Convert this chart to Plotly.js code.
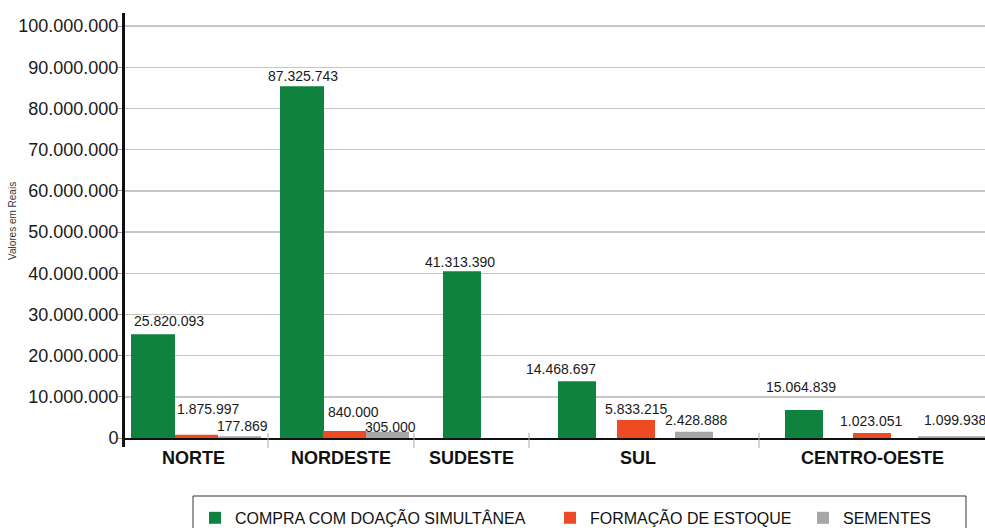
<!DOCTYPE html>
<html>
<head>
<meta charset="utf-8">
<script src="https://cdn.plot.ly/plotly-3.0.1.min.js"></script>
<style>html,body{margin:0;padding:0;background:#fff;}#chart{width:985px;height:528px;}</style>
</head>
<body>
<div id="chart"></div>
<script>
// ---- data ----
const regions = ['NORTE', 'NORDESTE', 'SUDESTE', 'SUL', 'CENTRO-OESTE'];
const seriesNames = ['COMPRA COM DOAÇÃO SIMULTÂNEA', 'FORMAÇÃO DE ESTOQUE', 'SEMENTES'];
// bar heights as drawn in the picture
const compraValues = [25200000, 85400000, 40500000, 13800000, 6800000];
const estoqueValues = [800000, 1700000, 0, 4400000, 1200000];
const sementesValues = [400000, 1500000, 0, 1500000, 400000];
// value labels as printed
const compraLabels = ['25.820.093', '87.325.743', '41.313.390', '14.468.697', '15.064.839'];
const estoqueLabels = ['1.875.997', '840.000', '', '5.833.215', '1.023.051'];
const sementesLabels = ['177.869', '305.000', '', '2.428.888', '1.099.938'];
const yTickVals = [0, 10000000, 20000000, 30000000, 40000000, 50000000, 60000000, 70000000, 80000000, 90000000, 100000000];
const yTitle = 'Valores em Reais';

// ---- layout / style ----
const colors = ['#10823f', '#ee4a24', '#a6a6a6'];
const FONT = 'Liberation Sans, Arial, Helvetica, sans-serif';
const barOffsets = [
  [-0.4651, -0.5988, -0.6512, -0.9826, -0.6628],
  [-0.2093, -0.3488, -0.4000, -0.6395, -0.2674],
  [0.0407, -0.0988, -0.2000, -0.3023, 0.1105]
];
const barWidths = [
  [0.2558, 0.2558, 0.2209, 0.2209, 0.2209],
  [0.25, 0.25, 0.2209, 0.2209, 0.2209],
  [0.25, 0.25, 0.2209, 0.2209, 0.39]
];
const labelDx = [[16, 1, -2, -16, -3], [11.5, 8.5, 0, 0, -1], [2.5, 2.5, 0, 2, 3.5]];
const labelDy = [[13, 10, 9, 12, 23], [26, 19, 0, 11, 12], [10, 5, 0, 12, 16]];
const catLabelShift = [-18, -42, -84, -89, -27];
const legendIds = ['legend', 'legend2', 'legend3'];
const legendX = [0.0814, 0.4942, 0.7884];

const allValues = [compraValues, estoqueValues, sementesValues];
const allLabels = [compraLabels, estoqueLabels, sementesLabels];

const traces = allValues.map((vals, s) => ({
  type: 'bar',
  name: seriesNames[s],
  legend: legendIds[s],
  x: regions,
  y: vals,
  offset: barOffsets[s],
  width: barWidths[s],
  marker: {color: colors[s], line: {width: 0}},
  hoverinfo: 'skip'
}));

const annotations = [];
allLabels.forEach((labels, s) => {
  labels.forEach((t, i) => {
    if (!t) return;
    annotations.push({
      x: i + barOffsets[s][i] + barWidths[s][i] / 2,
      y: allValues[s][i],
      xref: 'x', yref: 'y',
      text: t, showarrow: false,
      xanchor: 'center', yanchor: 'middle',
      xshift: labelDx[s][i], yshift: labelDy[s][i],
      font: {family: FONT, size: 14, color: '#1a1a1a'}
    });
  });
});
regions.forEach((r, i) => {
  annotations.push({
    x: i, y: -0.047, xref: 'x', yref: 'paper',
    text: '<b>' + r + '</b>', showarrow: false,
    xanchor: 'center', yanchor: 'middle', xshift: catLabelShift[i],
    font: {family: FONT, size: 18, color: '#111'}
  });
});
annotations.push({
  x: -0.1302, y: 0.5106, xref: 'paper', yref: 'paper',
  text: yTitle, textangle: -90, showarrow: false,
  xanchor: 'center', yanchor: 'middle',
  font: {family: FONT, size: 10, color: '#333'}
});

const sepX = [0.1663, 0.3360, 0.4698, 0.7372];
const shapes = sepX.map(x => ({
  type: 'line', xref: 'paper', yref: 'paper',
  x0: x, x1: x, y0: 0.0118, y1: -0.0235,
  line: {color: '#aaaaaa', width: 1}
}));
shapes.push({type: 'line', xref: 'paper', yref: 'paper', x0: -0.0017, x1: -0.0017, y0: 0, y1: -0.0212, line: {color: '#111', width: 3}});
shapes.push({type: 'rect', xref: 'paper', yref: 'paper', x0: 0.0791, x1: 0.9779, y0: -0.1365, y1: -0.26, line: {color: '#333', width: 1}});

const legendBase = {
  orientation: 'h', xanchor: 'left', y: -0.148, yanchor: 'top',
  font: {family: FONT, size: 16, color: '#111'},
  borderwidth: 0, bgcolor: 'rgba(0,0,0,0)', itemclick: false, itemdoubleclick: false
};

const layout = {
  width: 985, height: 528,
  margin: {l: 125, r: 0, t: 13, b: 90, autoexpand: false},
  paper_bgcolor: '#fff', plot_bgcolor: '#fff',
  separators: ',.',
  barmode: 'overlay',
  showlegend: true,
  font: {family: FONT, color: '#1a1a1a'},
  xaxis: {
    type: 'category', range: [-0.5, 4.5],
    showticklabels: false, ticks: '', showgrid: false,
    showline: true, linecolor: '#111', linewidth: 2, zeroline: false, fixedrange: true
  },
  yaxis: {
    range: [0, 103200000],
    tickmode: 'array', tickvals: yTickVals, tickformat: ',d',
    ticks: 'outside', ticklen: 5, tickcolor: '#999', tickwidth: 1,
    ticklabelstandoff: -5,
    tickfont: {family: FONT, size: 18, color: '#1a1a1a'},
    showgrid: true, gridcolor: '#c6c6c6', gridwidth: 1.5,
    showline: true, linecolor: '#111', linewidth: 3, zeroline: false,
    fixedrange: true
  },
  legend: Object.assign({}, legendBase, {x: legendX[0]}),
  legend2: Object.assign({}, legendBase, {x: legendX[1]}),
  legend3: Object.assign({}, legendBase, {x: legendX[2]}),
  annotations: annotations,
  shapes: shapes
};

Plotly.newPlot('chart', traces, layout, {displayModeBar: false, staticPlot: true});
</script>
</body>
</html>
